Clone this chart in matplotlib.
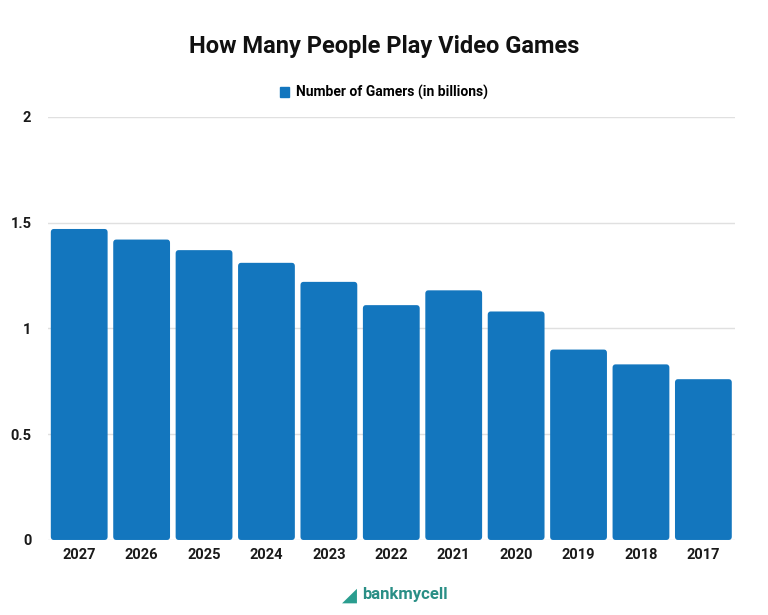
import matplotlib
matplotlib.use('Agg')
import matplotlib.pyplot as plt
from matplotlib.patches import FancyBboxPatch

#%% data
years = ['2027', '2026', '2025', '2024', '2023', '2022', '2021', '2020', '2019', '2018', '2017']
gamers = [1.47, 1.42, 1.37, 1.31, 1.22, 1.11, 1.18, 1.08, 0.90, 0.83, 0.76]
yticks = [0, 0.5, 1, 1.5, 2]
ytick_labels = ['0', '0.5', '1', '1.5', '2']

bar_color = '#1376be'
plt.rcParams['font.family'] = ['Roboto', 'DejaVu Sans']

#%% figure
fig = plt.figure(figsize=(7.68, 6.15), dpi=100)
ax = fig.add_axes([0.0625, 0.122, 0.894, 0.688])

x = list(range(len(years)))
bars = ax.bar(x, gamers, width=0.91, color=bar_color, label='Number of Gamers (in billions)')

# rounded tops
for b in bars:
    b.set_visible(False)
    p = FancyBboxPatch((b.get_x(), 0), b.get_width(), b.get_height(),
                       boxstyle='round,pad=0,rounding_size=0.05',
                       mutation_aspect=0.3, facecolor=bar_color, edgecolor='none')
    ax.add_patch(p)

ax.set_xlim(-0.5, len(years) - 0.5)
ax.set_ylim(0, 2)
ax.set_xticks(x)
ax.set_xticklabels(years, fontsize=10.5, fontweight='bold', color='#1a1a1a')
ax.set_yticks(yticks)
ax.set_yticklabels(ytick_labels, fontsize=10.5, fontweight='bold', color='#1a1a1a')
ax.tick_params(length=0, pad=6)
ax.tick_params(axis='y', pad=12)
ax.grid(axis='y', color='#e0e0e0', lw=1)
ax.set_axisbelow(True)
for s in ax.spines.values():
    s.set_visible(False)

fig.text(0.5, 0.924, 'How Many People Play Video Games', ha='center', va='center',
         fontsize=17, fontweight='bold', color='#111111')
leg = fig.legend(handles=[bars.patches[0]], labels=['Number of Gamers (in billions)'],
                 loc='center', bbox_to_anchor=(0.5, 0.849), frameon=False,
                 handlelength=0.7, handleheight=0.7, handletextpad=0.5,
                 prop={'weight': 'bold', 'size': 10})
leg.legend_handles[0].set_visible(True)
leg.legend_handles[0].set_color(bar_color)

# logo
fig.text(0.455, 0.033, '\u25e2', ha='center', va='center', fontsize=14, color='#2a9d8f',
         family='DejaVu Sans')
fig.text(0.472, 0.033, 'bankmycell', ha='left', va='center', fontsize=12,
         fontweight='bold', color='#2a8f86')

fig.savefig('out.png', dpi=100)
